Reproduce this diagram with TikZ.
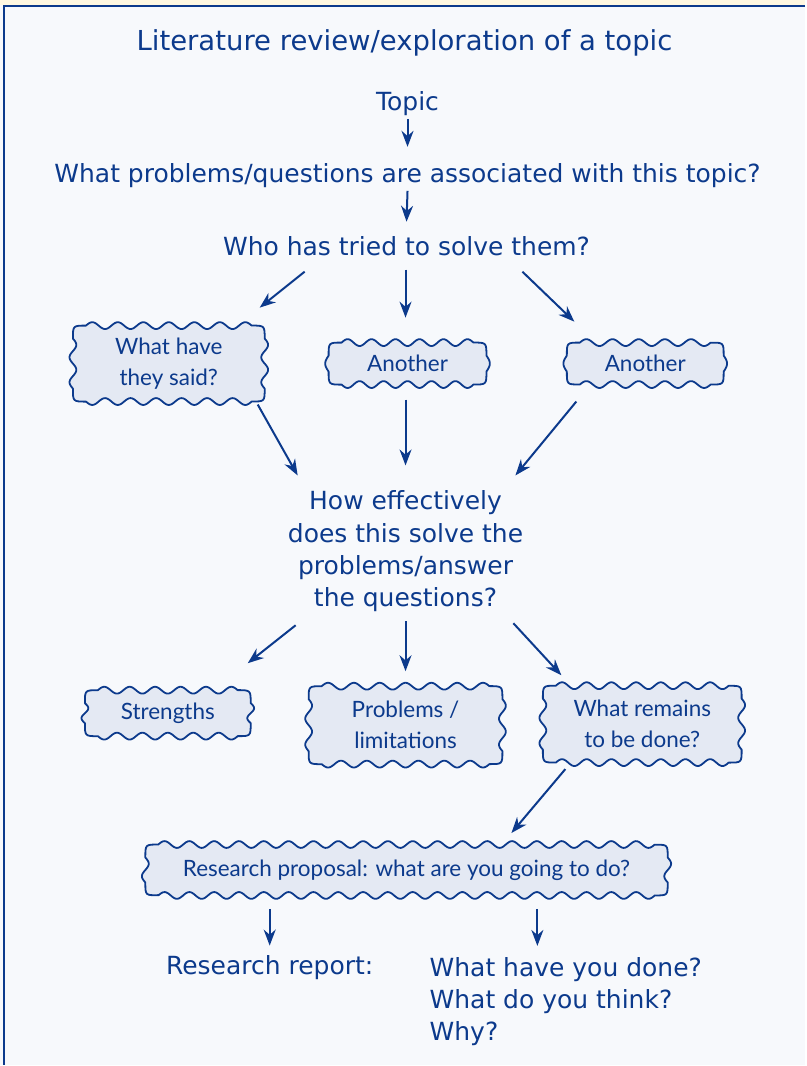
\documentclass[tikz,border=0pt]{standalone}
\usepackage{fontspec}
\setmainfont{DejaVu Sans}
\newfontfamily\cloudfont{Lato}
\usetikzlibrary{arrows.meta,calc}
\definecolor{ink}{RGB}{12,58,140}
\definecolor{bg}{RGB}{247,249,252}
\definecolor{cloudfill}{RGB}{228,233,243}
\definecolor{strip}{RGB}{255,248,225}
\pgfdeclarelayer{back}
\pgfdeclarelayer{mid}
\pgfsetlayers{back,mid,main}
\def\cbr{13}
\def\cba{3.4}
\def\cbl{25}
% wavy box: centre x, centre y, width, height
\newcommand\wavybox[4]{%
  \pgfmathsetmacro\xa{#1-#3/2}\pgfmathsetmacro\xb{#1+#3/2}%
  \pgfmathsetmacro\ya{#2-#4/2}\pgfmathsetmacro\yb{#2+#4/2}%
  \pgfmathsetmacro\lh{#3-2*\cbr}\pgfmathsetmacro\lv{#4-2*\cbr}%
  \pgfmathsetmacro\nh{max(1,round(2*\lh/\cbl))}%
  \pgfmathsetmacro\nv{max(1,round(2*\lv/\cbl))}%
  \path[cloudshape] (\xa+\cbr,\ya)
    -- plot[smooth,domain=0:1,samples=321,variable=\t] ({\xa+\cbr+\t*\lh},{\ya-\cba*sin(180*\nh*\t)})
    .. controls (\xb,\ya) .. (\xb,\ya+\cbr)
    -- plot[smooth,domain=0:1,samples=81,variable=\t] ({\xb+\cba*sin(180*\nv*\t)},{\ya+\cbr+\t*\lv})
    .. controls (\xb,\yb) .. (\xb-\cbr,\yb)
    -- plot[smooth,domain=0:1,samples=321,variable=\t] ({\xb-\cbr-\t*\lh},{\yb+\cba*sin(180*\nh*\t)})
    .. controls (\xa,\yb) .. (\xa,\yb-\cbr)
    -- plot[smooth,domain=0:1,samples=81,variable=\t] ({\xa-\cba*sin(180*\nv*\t)},{\yb-\cbr-\t*\lv})
    .. controls (\xa,\ya) .. (\xa+\cbr,\ya) -- cycle;}
\begin{document}
\begin{tikzpicture}[x=1pt,y=-1pt,
  txt/.style={text=ink,font=\fontsize{25}{32.5}\selectfont,inner sep=0pt,align=center},
  cloudtext/.style={text=ink,font=\cloudfont\fontsize{22.5}{31}\selectfont,align=center,inner sep=0pt},
  cloudshape/.style={draw=ink,line width=1.8pt,fill=cloudfill,line join=round},
  arr/.style={draw=ink,line width=2pt,-{Stealth[length=16pt,width=12pt]}}]
% background and frame
\begin{pgfonlayer}{back}
\fill[bg] (0,0) rectangle (806,1066);
\fill[strip] (0,0) rectangle (806,5);
\draw[ink,line width=2.5pt] (806,6) -- (4,6) -- (4,1066);
\end{pgfonlayer}
\useasboundingbox (0,0) rectangle (806,1066);
% text nodes
\node[txt,font=\fontsize{27.5}{32}\selectfont] (title) at (405,43) {Literature review/exploration of a topic};
\node[txt] (topic) at (408,104) {Topic};
\node[txt] (q) at (408,176) {What problems/questions are associated with this topic?};
\node[txt] (who) at (407,246) {Who has tried to solve them?};
% clouds row 1
\node[cloudtext,minimum width=192pt,minimum height=76pt] (c1) at (169,364) {What have\\they said?};
\node[cloudtext,minimum width=158pt,minimum height=42pt] (c2) at (408,364) {Another};
\node[cloudtext,minimum width=157pt,minimum height=42pt] (c3) at (646,364) {Another};
% middle question
\node[txt] (how) at (406,552) {How effectively\\does this solve the\\problems/answer\\the questions?};
% clouds row 2
\node[cloudtext,minimum width=166pt,minimum height=46pt] (s1) at (168,714) {Strengths};
\node[cloudtext,minimum width=194pt,minimum height=78pt] (s2) at (406,726) {Problems /\\limitations};
\node[cloudtext,minimum width=199pt,minimum height=77pt] (s3) at (643,725) {What remains\\to be done?};
% proposal
\node[cloudtext,minimum width=523pt,minimum height=51pt] (rp) at (407,871) {Research proposal: what are you going to do?};
% bottom
\node[txt] (report) at (270,969) {Research report:};
\node[txt,align=left,anchor=north west] (ans) at (430,958) {What have you done?\\What do you think?\\Why?};
% cloud outlines
\begin{pgfonlayer}{mid}
\wavybox{169}{364}{192}{76}
\wavybox{408}{364}{158}{42}
\wavybox{646}{364}{157}{42}
\wavybox{168}{714}{166}{46}
\wavybox{406}{726}{194}{78}
\wavybox{643}{725}{199}{77}
\wavybox{407}{871}{523}{51}
\end{pgfonlayer}
% connectors
\draw[arr] ($(topic)+(0,15)$) -- ($(q)+(0,-29)$);
\draw[arr] ($(q)+(0,15)$) -- ($(who)+(0,-24)$);
\draw[arr] ($(who)+(-102,26)$) -- ($(c1)+(91,-56)$);
\draw[arr] ($(who)+(-1,24)$) -- ($(c2)+(-2,-46)$);
\draw[arr] ($(who)+(116,26)$) -- ($(c3)+(-71,-42)$);
\draw[arr] ($(c1)+(89,41)$) -- ($(how)+(-108,-76)$);
\draw[arr] ($(c2)+(-2,36)$) -- ($(how)+(0,-86)$);
\draw[arr] ($(c3)+(-69,38)$) -- ($(how)+(110,-76)$);
\draw[arr] ($(how)+(-110,74)$) -- ($(s1)+(80,-50)$);
\draw[arr] ($(how)+(0,70)$) -- ($(s2)+(0,-54)$);
\draw[arr] ($(how)+(108,72)$) -- ($(s3)+(-81,-49)$);
\draw[arr] ($(s3)+(-77,45)$) -- ($(rp)+(105,-37)$);
\draw[arr] ($(rp)+(-137,39)$) -- ($(report.north)+(0,-10)$);
\draw[arr] ($(rp)+(131,39)$) -- ($(ans.north west)+(108,-11)$);
\end{tikzpicture}
\end{document}
